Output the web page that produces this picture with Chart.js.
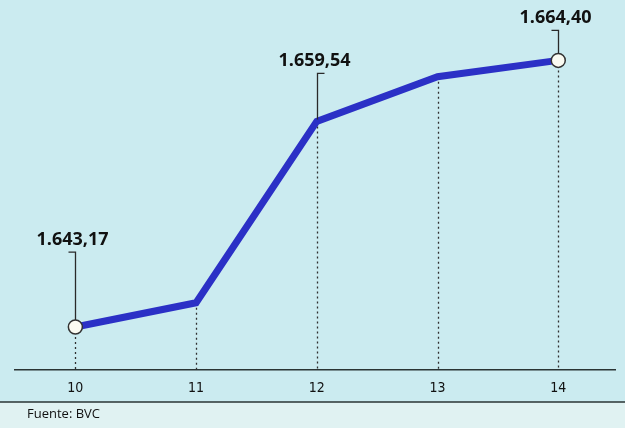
<!DOCTYPE html>
<html><head><meta charset="utf-8">
<script src="https://cdn.jsdelivr.net/npm/chart.js@4/dist/chart.umd.min.js"></script>
<style>
html,body{margin:0;padding:0;background:#cdecf0;}
#wrap{position:relative;width:625px;height:428px;}
canvas{display:block;}
</style></head>
<body><div id="wrap"><canvas id="c" width="625" height="428"></canvas></div>
<script>
const days = [10, 11, 12, 13, 14];
const closes = [1643.17, 1645.1, 1659.54, 1663.1, 1664.40];
const labelled = [0, 2, 4];
const labelTexts = ['1.643,17', '1.659,54', '1.664,40'];
const source = 'Fuente: BVC';

const annot = {
  id: 'annot',
  beforeDraw(chart) {
    const ctx = chart.ctx;
    ctx.save();
    ctx.fillStyle = '#cbebf0';
    ctx.fillRect(0, 0, chart.width, chart.height);
    ctx.fillStyle = '#e0f2f2';
    ctx.fillRect(0, 402, chart.width, chart.height - 402);
    ctx.restore();
  },
  beforeDatasetsDraw(chart) {
    const ctx = chart.ctx, xs = chart.scales.x, ys = chart.scales.y;
    const bottom = chart.chartArea.bottom;
    ctx.save();
    ctx.strokeStyle = '#2f2f2f';
    ctx.lineWidth = 1.3;
    ctx.setLineDash([2, 3]);
    days.forEach((d, i) => {
      const px = Math.round(xs.getPixelForValue(d)) + 0.5;
      const py = ys.getPixelForValue(closes[i]);
      ctx.beginPath(); ctx.moveTo(px, py); ctx.lineTo(px, bottom); ctx.stroke();
    });
    ctx.restore();
  },
  afterDatasetsDraw(chart) {
    const ctx = chart.ctx, xs = chart.scales.x, ys = chart.scales.y;
    const leaderLen = [75, 48, 30];
    const hookDir = [-1, 1, -1];
    ctx.save();
    labelled.forEach((idx, k) => {
      const px = Math.round(xs.getPixelForValue(days[idx])) + 0.5;
      const py = ys.getPixelForValue(closes[idx]);
      const startY = py - (idx === 2 ? 2 : 7);
      const topY = py - leaderLen[k];
      ctx.strokeStyle = '#2a2a2a';
      ctx.lineWidth = 1.3;
      ctx.setLineDash([]);
      ctx.beginPath();
      ctx.moveTo(px, startY);
      ctx.lineTo(px, topY);
      ctx.lineTo(px + hookDir[k] * 7, topY);
      ctx.stroke();
      ctx.fillStyle = '#111';
      ctx.font = '700 18px "Open Sans", sans-serif';
      ctx.textAlign = 'center';
      ctx.textBaseline = 'alphabetic';
      ctx.fillText(labelTexts[k], px - 3, topY - 7);
    });
    ctx.strokeStyle = '#2a3434';
    ctx.lineWidth = 1.5;
    ctx.beginPath(); ctx.moveTo(0, 402); ctx.lineTo(chart.width, 402); ctx.stroke();
    ctx.fillStyle = '#111';
    ctx.font = '13px "Open Sans", sans-serif';
    ctx.textAlign = 'left';
    ctx.textBaseline = 'alphabetic';
    ctx.fillText(source, 27, 418);
    ctx.restore();
  }
};

new Chart(document.getElementById('c'), {
  type: 'line',
  data: {
    datasets: [{
      data: days.map((d, i) => ({x: d, y: closes[i]})),
      borderColor: '#2b30c6',
      borderWidth: 7,
      borderJoinStyle: 'miter',
      tension: 0,
      pointRadius: [7, 0, 0, 0, 7],
      pointBackgroundColor: '#fbfbf2',
      pointBorderColor: '#333',
      pointBorderWidth: 1.5,
      clip: false
    }]
  },
  options: {
    responsive: false,
    animation: false,
    events: [],
    layout: {padding: {left: 15, right: 10, top: 0, bottom: 0}},
    plugins: {legend: {display: false}, tooltip: {enabled: false}},
    scales: {
      x: {
        type: 'linear',
        min: 9.5,
        max: 14.47,
        afterFit(scale) { scale.height = 58; },
        afterBuildTicks(scale) { scale.ticks = days.map(v => ({value: v})); },
        grid: {display: false, drawTicks: false},
        border: {display: true, color: '#2a3434', width: 1.5},
        ticks: {
          padding: 10,
          color: '#111',
          font: {family: '"Liberation Sans Narrow", "DejaVu Sans Condensed", "Open Sans", sans-serif', size: 14},
          callback: v => String(v)
        }
      },
      y: {
        display: false,
        min: 1639.75,
        max: 1668.53
      }
    }
  },
  plugins: [annot]
});
</script>
</body></html>
